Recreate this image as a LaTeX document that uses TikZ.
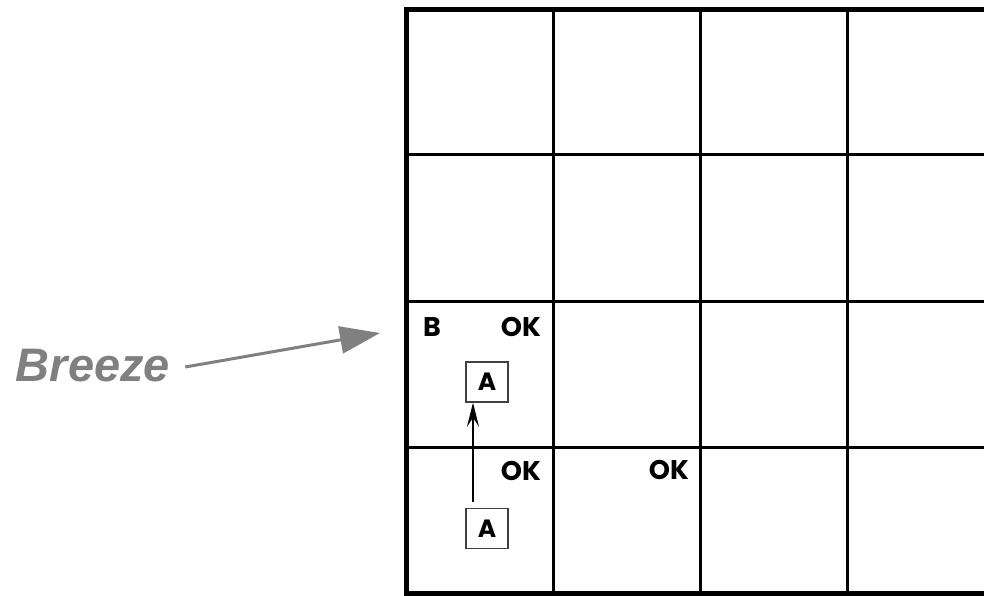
\documentclass[tikz,border=0pt]{standalone}
\usepackage{fontspec}
\setmainfont{Liberation Sans}
\newfontfamily\geo{Poppins}
\usetikzlibrary{arrows.meta}
\definecolor{breezegray}{RGB}{128,128,128}
\tikzset{
  cell/.style={font=\geo\bfseries\fontsize{27}{29}\selectfont, inner sep=0pt, anchor=center},
  agent/.style={draw=black!75, line width=1.4pt, minimum width=42pt, minimum height=40pt, inner sep=0pt, font=\geo\bfseries\fontsize{25}{27}\selectfont},
  gridline/.style={line width=3pt, black},
  border/.style={line width=5pt, black},
  breeze/.style={font=\bfseries\itshape\fontsize{47}{50}\selectfont, text=breezegray, inner sep=0pt},
  breezearrow/.style={draw=breezegray, line width=3pt, -{Triangle[length=40pt,width=27pt]}},
  movearrow/.style={line width=2.6pt, -{Stealth[length=24pt,width=12pt,inset=9pt]}}
}
\begin{document}
\begin{tikzpicture}[x=1pt,y=-1pt]
\useasboundingbox (0,0) rectangle (984,596);
\begin{scope}
\clip (0,0) rectangle (984,596);
% inner lines
\foreach \x in {553,700,847} \draw[gridline] (\x,9.5) -- (\x,593.5);
\foreach \y in {155,301,447} \draw[gridline] (406,\y) -- (1000,\y);
% outer border
\draw[border] (1000,9.5) -- (406,9.5) -- (406,593.5) -- (1000,593.5);
\end{scope}
% labels
\node[cell] (b) at (432,327) {B};
\node[cell] (ok1) at (521,327) {OK};
\node[cell] (ok2) at (521,471) {OK};
\node[cell] (ok3) at (669,470) {OK};
\node[agent] (a2) at (487,382) {A};
\node[agent] (a1) at (487,528.5) {A};
\draw[movearrow] ([xshift=-14pt,yshift=6pt]a1.north) -- ([xshift=-14pt]a2.south);
% breeze
\node[breeze] (br) at (93,366) {Breeze};
\coordinate (bt) at (380,333);
\draw[breezearrow] ([xshift=15pt,yshift=-1pt]br.east) -- (bt);
\end{tikzpicture}
\end{document}
